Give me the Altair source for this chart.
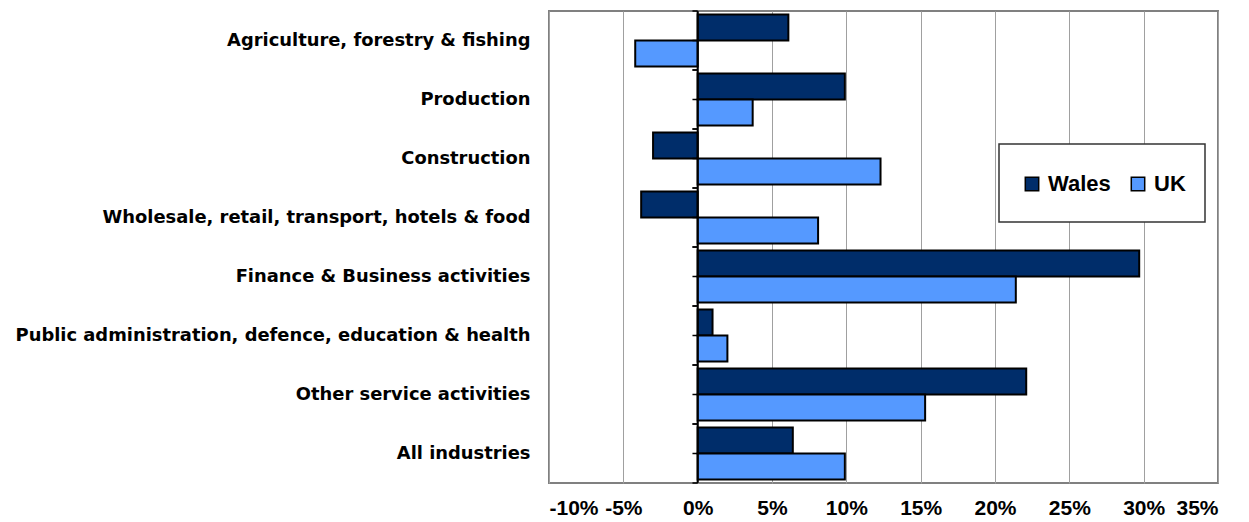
import altair as alt
import pandas as pd

categories = [
    "Agriculture, forestry & fishing",
    "Production",
    "Construction",
    "Wholesale, retail, transport, hotels & food",
    "Finance & Business activities",
    "Public administration, defence, education & health",
    "Other service activities",
    "All industries",
]
wales = [6.1, 9.9, -3.0, -3.8, 29.7, 1.0, 22.1, 6.4]
uk = [-4.2, 3.7, 12.3, 8.1, 21.4, 2.0, 15.3, 9.9]
series = ["Wales", "UK"]
colors = ["#002D6A", "#5599FF"]
x_ticks = [-10, -5, 0, 5, 10, 15, 20, 25, 30, 35]

rows = []
for c, w, u in zip(categories, wales, uk):
    rows.append({"category": c, "series": "Wales", "value": w})
    rows.append({"category": c, "series": "UK", "value": u})
df = pd.DataFrame(rows)
cat_df = pd.DataFrame({"category": categories})
box_df = pd.DataFrame({"k": [0]})

W, H = 669, 472

xscale = alt.Scale(domain=[-10, 35], nice=False, zero=False)
yscale = alt.Scale(domain=categories, paddingInner=0, paddingOuter=0)

y_axis = alt.Axis(
    domain=False,
    ticks=False,
    grid=False,
    labelFont="DejaVu Sans",
    labelFontSize=17.9,
    labelFontWeight="bold",
    labelColor="black",
    labelPadding=19,
    labelLimit=700,
)

legend_box = alt.Chart(box_df).mark_rect(
    fill="white", stroke="#333333", strokeWidth=1.5
).encode(
    x=alt.value(450), x2=alt.value(656), y=alt.value(133), y2=alt.value(211)
)

bars = alt.Chart(df).mark_bar(stroke="black", strokeWidth=2).encode(
    x=alt.X(
        "value:Q",
        scale=xscale,
        title=None,
        axis=alt.Axis(
            values=x_ticks,
            labelExpr="datum.value + '%'",
            grid=True,
            gridColor="#A0A0A0",
            gridWidth=1,
            domain=False,
            ticks=False,
            labelFont="Liberation Sans",
            labelFontSize=21,
            labelFontWeight="bold",
            labelColor="black",
            labelPadding=14,
        ),
    ),
    x2=alt.datum(0),
    y=alt.Y("category:N", scale=yscale, sort=categories, title=None, axis=y_axis),
    yOffset=alt.YOffset(
        "series:N",
        sort=series,
        scale=alt.Scale(domain=series, paddingInner=0, paddingOuter=0.14),
    ),
    color=alt.Color(
        "series:N",
        sort=series,
        scale=alt.Scale(domain=series, range=colors),
        legend=alt.Legend(
            title=None,
            orient="none",
            legendX=472,
            legendY=162,
            direction="horizontal",
            symbolType="square",
            symbolSize=180,
            symbolStrokeColor="black",
            symbolStrokeWidth=1.5,
            labelFont="Liberation Sans",
            labelFontSize=22,
            labelFontWeight="bold",
            labelColor="black",
            labelOffset=5,
            columnPadding=16,
            padding=0,
        ),
    ),
)

zero_line = alt.Chart(box_df).mark_rule(color="black", strokeWidth=2).encode(
    x=alt.datum(0, scale=xscale)
)

tick_layers = []
for bp in [0, 0.5, 1]:
    tick_layers.append(
        alt.Chart(cat_df).mark_rule(color="black", strokeWidth=1.5).encode(
            y=alt.Y("category:N", bandPosition=bp, scale=yscale, sort=categories, title=None, axis=y_axis),
            x=alt.datum(-0.35),
            x2=alt.datum(0),
        )
    )

chart = alt.layer(legend_box, bars, zero_line, *tick_layers).properties(
    width=W,
    height=H,
    autosize=alt.AutoSizeParams(type="none"),
    padding={"left": 541, "top": 3, "right": 15, "bottom": 38},
).configure_view(
    stroke="#808080", strokeWidth=2
)

chart.save("out.html", embed_options={"renderer": "svg", "actions": False})
